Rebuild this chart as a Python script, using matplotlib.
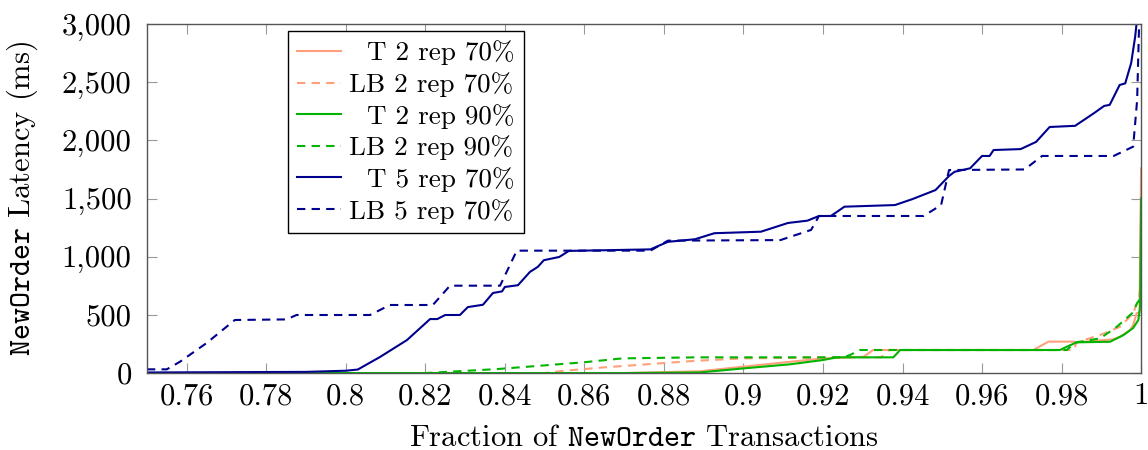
import numpy as np
import matplotlib
matplotlib.use('Agg')
import matplotlib.pyplot as plt
from matplotlib.ticker import FuncFormatter, MultipleLocator

plt.rcParams['font.family'] = 'cmr10'
plt.rcParams['axes.formatter.use_mathtext'] = True
plt.rcParams['mathtext.fontset'] = 'custom'
plt.rcParams['mathtext.tt'] = 'cmtt10'

# T 5 rep 70%
t5_x = [0.75, 0.79, 0.80, 0.803, 0.8086, 0.8154, 0.8212, 0.823, 0.825, 0.8287, 0.8307,
        0.8345, 0.837, 0.8393, 0.840, 0.8433, 0.8463, 0.8483, 0.8498, 0.8537, 0.8561,
        0.8766, 0.8810, 0.8878, 0.8927, 0.9044, 0.9112, 0.9161, 0.9190, 0.9220, 0.9254,
        0.9381, 0.9424, 0.9483, 0.9517, 0.9531, 0.9570, 0.9600, 0.9619, 0.9629, 0.9697,
        0.9736, 0.9770, 0.9834, 0.9882, 0.9907, 0.9921, 0.9946, 0.9960, 0.9975, 0.9985,
        0.9990, 0.9995]
t5_y = [5, 10, 20, 30, 138, 284, 464, 464, 499, 499, 567,
        587, 688, 702, 740, 755, 869, 913, 970, 998, 1050,
        1063, 1128, 1150, 1202, 1215, 1290, 1310, 1350, 1350, 1430,
        1444, 1494, 1573, 1694, 1730, 1760, 1866, 1866, 1917, 1925,
        1987, 2115, 2125, 2235, 2296, 2305, 2476, 2490, 2665, 2890,
        3050, 3400]

# LB 5 rep 70%
lb5_x = [0.75, 0.755, 0.7583, 0.765, 0.7721, 0.7851, 0.7876, 0.8061, 0.8111, 0.8219,
         0.8262, 0.8388, 0.843, 0.8766, 0.881, 0.9093, 0.917, 0.919, 0.9453, 0.9497,
         0.9517, 0.9707, 0.9751, 0.9931, 0.998, 0.999, 0.9998]
lb5_y = [32, 32, 97, 258, 456, 461, 499, 499, 585, 585,
         751, 751, 1052, 1052, 1138, 1143, 1230, 1350, 1350, 1444,
         1745, 1750, 1866, 1866, 1946, 2346, 3400]

# T 2 rep 90%
t2_90_x = [0.75, 0.87, 0.889, 0.90, 0.9117, 0.92, 0.9235, 0.9377, 0.9394, 0.9796,
           0.9813, 0.9838, 0.9922, 0.9956, 0.998, 0.9993, 0.99975, 1.0]
t2_90_y = [0, 0, 5, 40, 75, 112, 135, 135, 198, 198,
           226, 264, 269, 327, 387, 456, 570, 1500]

# LB 2 rep 90%
lb2_90_x = [0.75, 0.82, 0.8291, 0.838, 0.8597, 0.8695, 0.8883, 0.925, 0.9268, 0.9293,
            0.9813, 0.9834, 0.9897, 0.9939, 0.9977, 0.999, 1.0]
lb2_90_y = [0, 0, 17, 34, 92, 126, 135, 135, 155, 198,
            198, 262, 298, 398, 513, 600, 650]

# T 2 rep 70%
t2_70_x = [0.75, 0.87, 0.889, 0.90, 0.92, 0.9302, 0.9326, 0.9729, 0.9767, 0.9829,
           0.9838, 0.993, 0.9947, 0.9972, 0.998, 0.9989, 0.9996, 1.0]
t2_70_y = [0, 0, 15, 55, 126, 140, 198, 198, 270, 270,
           264, 290, 312, 370, 413, 515, 520, 1760]

# LB 2 rep 70%
lb2_70_x = [0.75, 0.85, 0.8541, 0.865, 0.8883, 0.90, 0.9226, 0.9346, 0.9365, 0.983,
            0.9838, 0.9897, 0.9947, 0.998, 0.9995, 1.0]
lb2_70_y = [0, 0, 17, 49, 106, 126, 135, 135, 198, 198,
            264, 327, 398, 513, 650, 800]

salmon = '#ffa07a'
green = '#00b400'
navy = '#00008f'

fig = plt.figure(figsize=(11.48, 4.5), dpi=100)
ax = fig.add_axes([0.128, 0.171, 0.866, 0.7756])

lw = 1.5
ax.plot(t2_70_x, t2_70_y, color=salmon, lw=lw, label='  T 2 rep 70%')
ax.plot(lb2_70_x, lb2_70_y, color=salmon, lw=lw, dashes=(4, 3), label='LB 2 rep 70%')
ax.plot(t2_90_x, t2_90_y, color=green, lw=lw, label='  T 2 rep 90%')
ax.plot(lb2_90_x, lb2_90_y, color=green, lw=lw, dashes=(4, 3), label='LB 2 rep 90%')
ax.plot(t5_x, t5_y, color=navy, lw=lw, label='  T 5 rep 70%')
ax.plot(lb5_x, lb5_y, color=navy, lw=lw, dashes=(4, 3), label='LB 5 rep 70%')

ax.set_xlim(0.75, 1.0)
ax.set_ylim(0, 3000)
ax.xaxis.set_major_locator(MultipleLocator(0.02))
ax.yaxis.set_major_locator(MultipleLocator(500))
ax.xaxis.set_major_formatter(FuncFormatter(lambda v, p: '%g' % round(v, 2)))
ax.yaxis.set_major_formatter(FuncFormatter(lambda v, p: '{:,.0f}'.format(v)))

ax.tick_params(direction='in', length=7, width=0.8, color='#999999',
               top=True, right=True, labelsize=22)
ax.tick_params(axis='y', pad=11)
ax.tick_params(axis='x', pad=7)
for s in ax.spines.values():
    s.set_color('#555555')
    s.set_linewidth(1.0)

ax.set_xlabel(r'Fraction of $\mathtt{NewOrder}$ Transactions', fontsize=22, labelpad=10)
ax.set_ylabel(r'$\mathtt{NewOrder}$ Latency (ms)', fontsize=22, labelpad=16)

leg = ax.legend(loc='upper left', bbox_to_anchor=(0.1419, 0.98), borderaxespad=0,
                fontsize=19.5, frameon=True, fancybox=False, framealpha=1,
                edgecolor='black', handlelength=1.6, handletextpad=0.3,
                labelspacing=0.25, borderpad=0.35)
leg.get_frame().set_linewidth(1.0)

fig.savefig('out.png', dpi=100)
